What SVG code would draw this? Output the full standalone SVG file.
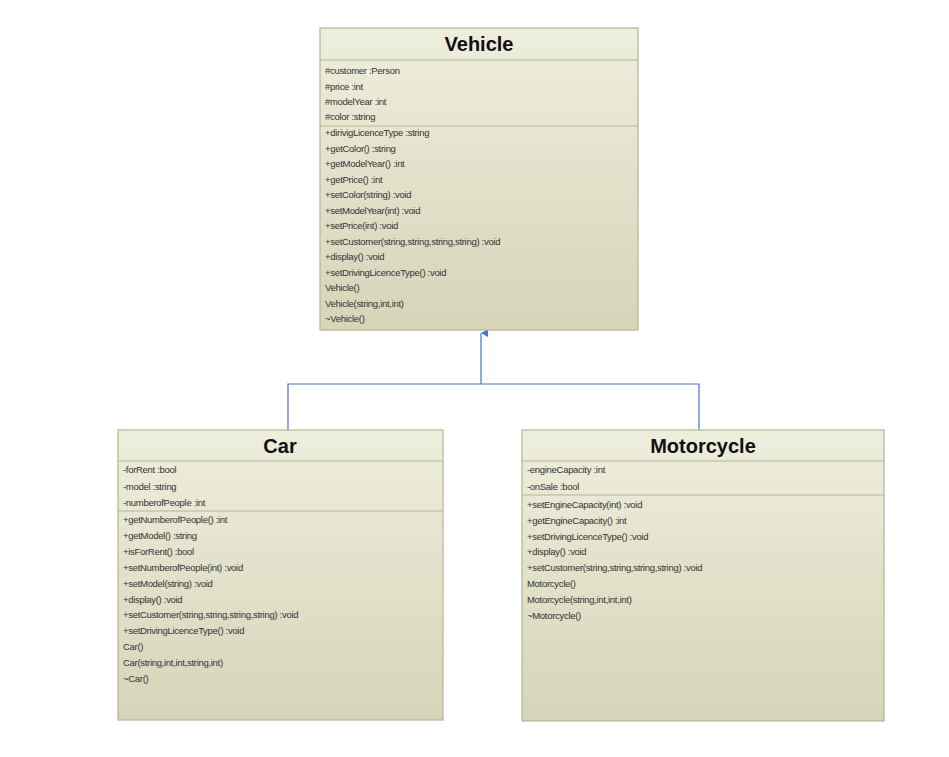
<svg xmlns="http://www.w3.org/2000/svg" width="949" height="757" viewBox="0 0 949 757">
<style>
.box{fill:url(#g);stroke:#b5b594;stroke-width:1.2}
.sep{stroke:#b5b594;stroke-width:1.2}
.t{font-family:"Liberation Sans",Arial,sans-serif;font-size:20px;font-weight:bold;fill:#111;text-anchor:middle}
.m{font-family:"Liberation Sans",Arial,sans-serif;font-size:9.5px;fill:#333;letter-spacing:-0.3px}
.c{fill:none;stroke:#4a74c0;stroke-width:1.2}
</style>
<defs>
<linearGradient id="g" x1="0" y1="0" x2="0" y2="1"><stop offset="0" stop-color="#eeeedd"/><stop offset="1" stop-color="#d6d5b9"/></linearGradient>
<marker id="a" markerWidth="10" markerHeight="10" refX="5" refY="1" orient="auto" markerUnits="userSpaceOnUse"><path d="M1,8 L5,1 L9,8 Z" fill="#4a74c0"/></marker>
</defs>
<rect width="949" height="757" fill="#fff"/>
<g id="connectors">
<path class="c" d="M288,430 V384 H699 V430"/>
<path class="c" d="M481,384 V333" marker-end="url(#a)"/>
</g>
<g id="Vehicle">
<rect class="box" x="320" y="28" width="318" height="302"/>
<line class="sep" x1="320" y1="60" x2="638" y2="60"/>
<line class="sep" x1="320" y1="126" x2="638" y2="126"/>
<text class="t" x="479" y="51">Vehicle</text>
<text class="m" x="325" y="74">#customer :Person</text>
<text class="m" x="325" y="90">#price :int</text>
<text class="m" x="325" y="105">#modelYear :int</text>
<text class="m" x="325" y="120">#color :string</text>
<text class="m" x="325" y="136">+dirivigLicenceType :string</text>
<text class="m" x="325" y="151.5">+getColor() :string</text>
<text class="m" x="325" y="167">+getModelYear() :int</text>
<text class="m" x="325" y="182.5">+getPrice() :int</text>
<text class="m" x="325" y="198">+setColor(string) :void</text>
<text class="m" x="325" y="213.5">+setModelYear(int) :void</text>
<text class="m" x="325" y="229">+setPrice(int) :void</text>
<text class="m" x="325" y="244.5">+setCustomer(string,string,string,string) :void</text>
<text class="m" x="325" y="260">+display() :void</text>
<text class="m" x="325" y="275.5">+setDrivingLicenceType() :void</text>
<text class="m" x="325" y="291">Vehicle()</text>
<text class="m" x="325" y="306.5">Vehicle(string,int,int)</text>
<text class="m" x="325" y="322">~Vehicle()</text>
</g>
<g id="Car">
<rect class="box" x="118" y="430" width="325" height="290"/>
<line class="sep" x1="118" y1="461" x2="443" y2="461"/>
<line class="sep" x1="118" y1="511" x2="443" y2="511"/>
<text class="t" x="280" y="453">Car</text>
<text class="m" x="123" y="473">-forRent :bool</text>
<text class="m" x="123" y="490">-model :string</text>
<text class="m" x="123" y="506">-numberofPeople :int</text>
<text class="m" x="123" y="523">+getNumberofPeople() :int</text>
<text class="m" x="123" y="539">+getModel() :string</text>
<text class="m" x="123" y="555">+isForRent() :bool</text>
<text class="m" x="123" y="571">+setNumberofPeople(int) :void</text>
<text class="m" x="123" y="587">+setModel(string) :void</text>
<text class="m" x="123" y="603">+display() :void</text>
<text class="m" x="123" y="618">+setCustomer(string,string,string,string) :void</text>
<text class="m" x="123" y="634">+setDrivingLicenceType() :void</text>
<text class="m" x="123" y="650">Car()</text>
<text class="m" x="123" y="666">Car(string,int,int,string,int)</text>
<text class="m" x="123" y="682">~Car()</text>
</g>
<g id="Motorcycle">
<rect class="box" x="522" y="430" width="362" height="291"/>
<line class="sep" x1="522" y1="461" x2="884" y2="461"/>
<line class="sep" x1="522" y1="495" x2="884" y2="495"/>
<text class="t" x="703" y="453">Motorcycle</text>
<text class="m" x="527" y="473">-engineCapacity :int</text>
<text class="m" x="527" y="490">-onSale :bool</text>
<text class="m" x="527" y="508">+setEngineCapacity(int) :void</text>
<text class="m" x="527" y="524">+getEngineCapacity() :int</text>
<text class="m" x="527" y="540">+setDrivingLicenceType() :void</text>
<text class="m" x="527" y="555">+display() :void</text>
<text class="m" x="527" y="571">+setCustomer(string,string,string,string) :void</text>
<text class="m" x="527" y="587">Motorcycle()</text>
<text class="m" x="527" y="603">Motorcycle(string,int,int,int)</text>
<text class="m" x="527" y="619">~Motorcycle()</text>
</g>
</svg>
